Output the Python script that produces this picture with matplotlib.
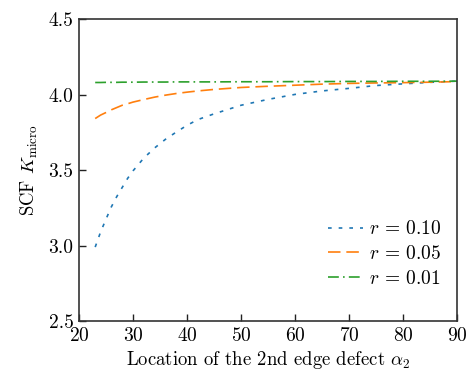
import matplotlib.pyplot as plt

plt.rcParams["font.family"] = "cmr10"
plt.rcParams["mathtext.fontset"] = "cm"
plt.rcParams["axes.formatter.use_mathtext"] = True

# location of the second edge defect (deg)
alpha2 = [23, 24, 25, 26, 27, 28, 29, 30, 32, 34, 36, 38, 40, 42, 45,
          50, 55, 60, 65, 70, 75, 80, 85, 90]

# stress concentration factor for each defect size r
k_r010 = [2.99, 3.09, 3.175, 3.257, 3.325, 3.385, 3.445, 3.495, 3.58, 3.647,
          3.704, 3.752, 3.797, 3.835, 3.873, 3.93, 3.969, 4.002, 4.025, 4.042,
          4.061, 4.072, 4.082, 4.09]
k_r005 = [3.842, 3.865, 3.882, 3.90, 3.915, 3.93, 3.94, 3.951, 3.968, 3.984,
          3.997, 4.008, 4.017, 4.025, 4.035, 4.048, 4.056, 4.063, 4.07, 4.075,
          4.078, 4.08, 4.083, 4.087]
k_r001 = [4.081, 4.081, 4.082, 4.082, 4.082, 4.083, 4.083, 4.083, 4.084, 4.084,
          4.084, 4.085, 4.085, 4.085, 4.085, 4.086, 4.086, 4.087, 4.087, 4.088,
          4.088, 4.089, 4.089, 4.09]

fig = plt.figure(figsize=(4.66, 3.76), dpi=100)
ax = fig.add_axes([0.1695, 0.1463, 0.8112, 0.8024])

ax.plot(alpha2, k_r010, color="#1f77b4", lw=1.2, dashes=(2.2, 4.2), label=r"$r$ = 0.10")
ax.plot(alpha2, k_r005, color="#ff7f0e", lw=1.2, dashes=(7.5, 3.5), label=r"$r$ = 0.05")
ax.plot(alpha2, k_r001, color="#2ca02c", lw=1.2, dashes=(6.5, 2.5, 1, 2.5), label=r"$r$ = 0.01")

ax.set_xlim(20, 90)
ax.set_ylim(2.5, 4.5)
ax.set_xticks(range(20, 91, 10))
ax.set_yticks([2.5, 3.0, 3.5, 4.0, 4.5])
ax.set_yticklabels(["2.5", "3.0", "3.5", "4.0", "4.5"])

ax.tick_params(direction="in", length=5, width=1.0, labelsize=14, pad=4,
               color="#222222", top=False, right=False)
for s in ax.spines.values():
    s.set_linewidth(1.2)
    s.set_color("#333333")

ax.set_xlabel(r"Location of the 2nd edge defect $\alpha_2$", fontsize=13.5, labelpad=3)
ax.set_ylabel(r"SCF $K_{\rm micro}$", fontsize=13.5, labelpad=6)

ax.legend(loc="lower right", bbox_to_anchor=(1.01, 0.045), frameon=False,
          fontsize=14, handlelength=1.8, handletextpad=0.3, labelspacing=0.35,
          borderaxespad=0.6)

fig.savefig("out.png", dpi=100)
